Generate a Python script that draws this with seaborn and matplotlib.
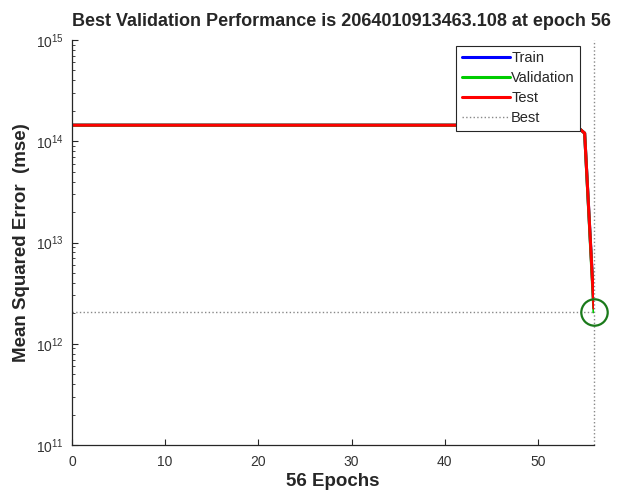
import matplotlib
matplotlib.use("Agg")
import matplotlib.pyplot as plt
import seaborn as sns
import pandas as pd

# ---- data ----
epochs = [0, 10, 20, 30, 40, 50, 54, 55, 56]
train_mse = [1.44e14, 1.44e14, 1.44e14, 1.44e14, 1.44e14, 1.44e14, 1.44e14, 1.20e14, 2.25e12]
val_mse = [1.44e14, 1.44e14, 1.44e14, 1.44e14, 1.44e14, 1.44e14, 1.44e14, 1.20e14, 2.064010913463108e12]
test_mse = [1.44e14, 1.44e14, 1.44e14, 1.44e14, 1.44e14, 1.44e14, 1.44e14, 1.20e14, 2.25e12]
best_epoch = 56
best_perf = 2064010913463.108
series_names = ["Train", "Validation", "Test"]
series_colors = ["#0000ff", "#00cc00", "#ff0000"]
x_ticks = [0, 10, 20, 30, 40, 50]

df = pd.DataFrame({
    "epoch": epochs * 3,
    "mse": train_mse + val_mse + test_mse,
    "series": sum([[n] * len(epochs) for n in series_names], []),
})

sns.set_theme(style="ticks")
plt.rcParams["font.family"] = ["Liberation Sans", "DejaVu Sans"]

fig = plt.figure(figsize=(6.2, 4.99), dpi=100)
ax = fig.add_axes([0.116, 0.108, 0.842, 0.812])

sns.lineplot(data=df, x="epoch", y="mse", hue="series", hue_order=series_names,
             palette=series_colors, linewidth=2.2, ax=ax, legend=False)

ax.set_yscale("log")
ax.set_xlim(0, 56)
ax.set_ylim(1e11, 1e15)

ax.axvline(best_epoch, color="#888888", linestyle=":", linewidth=1.0, zorder=1, clip_on=False)
ax.axhline(best_perf, color="#888888", linestyle=":", linewidth=1.0, zorder=1)
ax.plot([best_epoch], [best_perf], marker="o", markersize=19, markerfacecolor="none",
        markeredgecolor="#1a7a1a", markeredgewidth=1.6, zorder=5, clip_on=False)

ax.set_xticks(x_ticks)
ax.tick_params(axis="both", which="both", direction="in", colors="#262626",
               labelsize=10, labelcolor="#333333")
ax.tick_params(axis="both", which="major", length=4, width=0.8)
ax.tick_params(axis="y", which="minor", length=2, width=0.6)
ax.tick_params(axis="y", which="major", pad=6)
ax.tick_params(axis="x", which="major", pad=7)

for s in ["top", "right"]:
    ax.spines[s].set_visible(False)
for s in ["left", "bottom"]:
    ax.spines[s].set_color("#262626")
    ax.spines[s].set_linewidth(0.9)

ax.set_title("Best Validation Performance is 2064010913463.108 at epoch 56",
             fontsize=13.0, fontweight="bold", pad=10, x=0.517)
ax.set_xlabel("56 Epochs", fontsize=13.5, fontweight="bold", labelpad=3)
ax.set_ylabel("Mean Squared Error  (mse)", fontsize=13.5, fontweight="bold", labelpad=4)

handles = [plt.Line2D([], [], color=c, linewidth=2.2) for c in series_colors]
handles.append(plt.Line2D([], [], color="#888888", linestyle=":", linewidth=1.0))
leg = ax.legend(handles, series_names + ["Best"], loc="upper right",
                bbox_to_anchor=(0.973, 0.985), borderaxespad=0, fontsize=10.5,
                handlelength=3.3, handletextpad=0.1, labelspacing=0.42,
                fancybox=False, framealpha=1, edgecolor="#262626", borderpad=0.35)
leg.get_frame().set_linewidth(0.8)

fig.savefig("out.png", dpi=100)
